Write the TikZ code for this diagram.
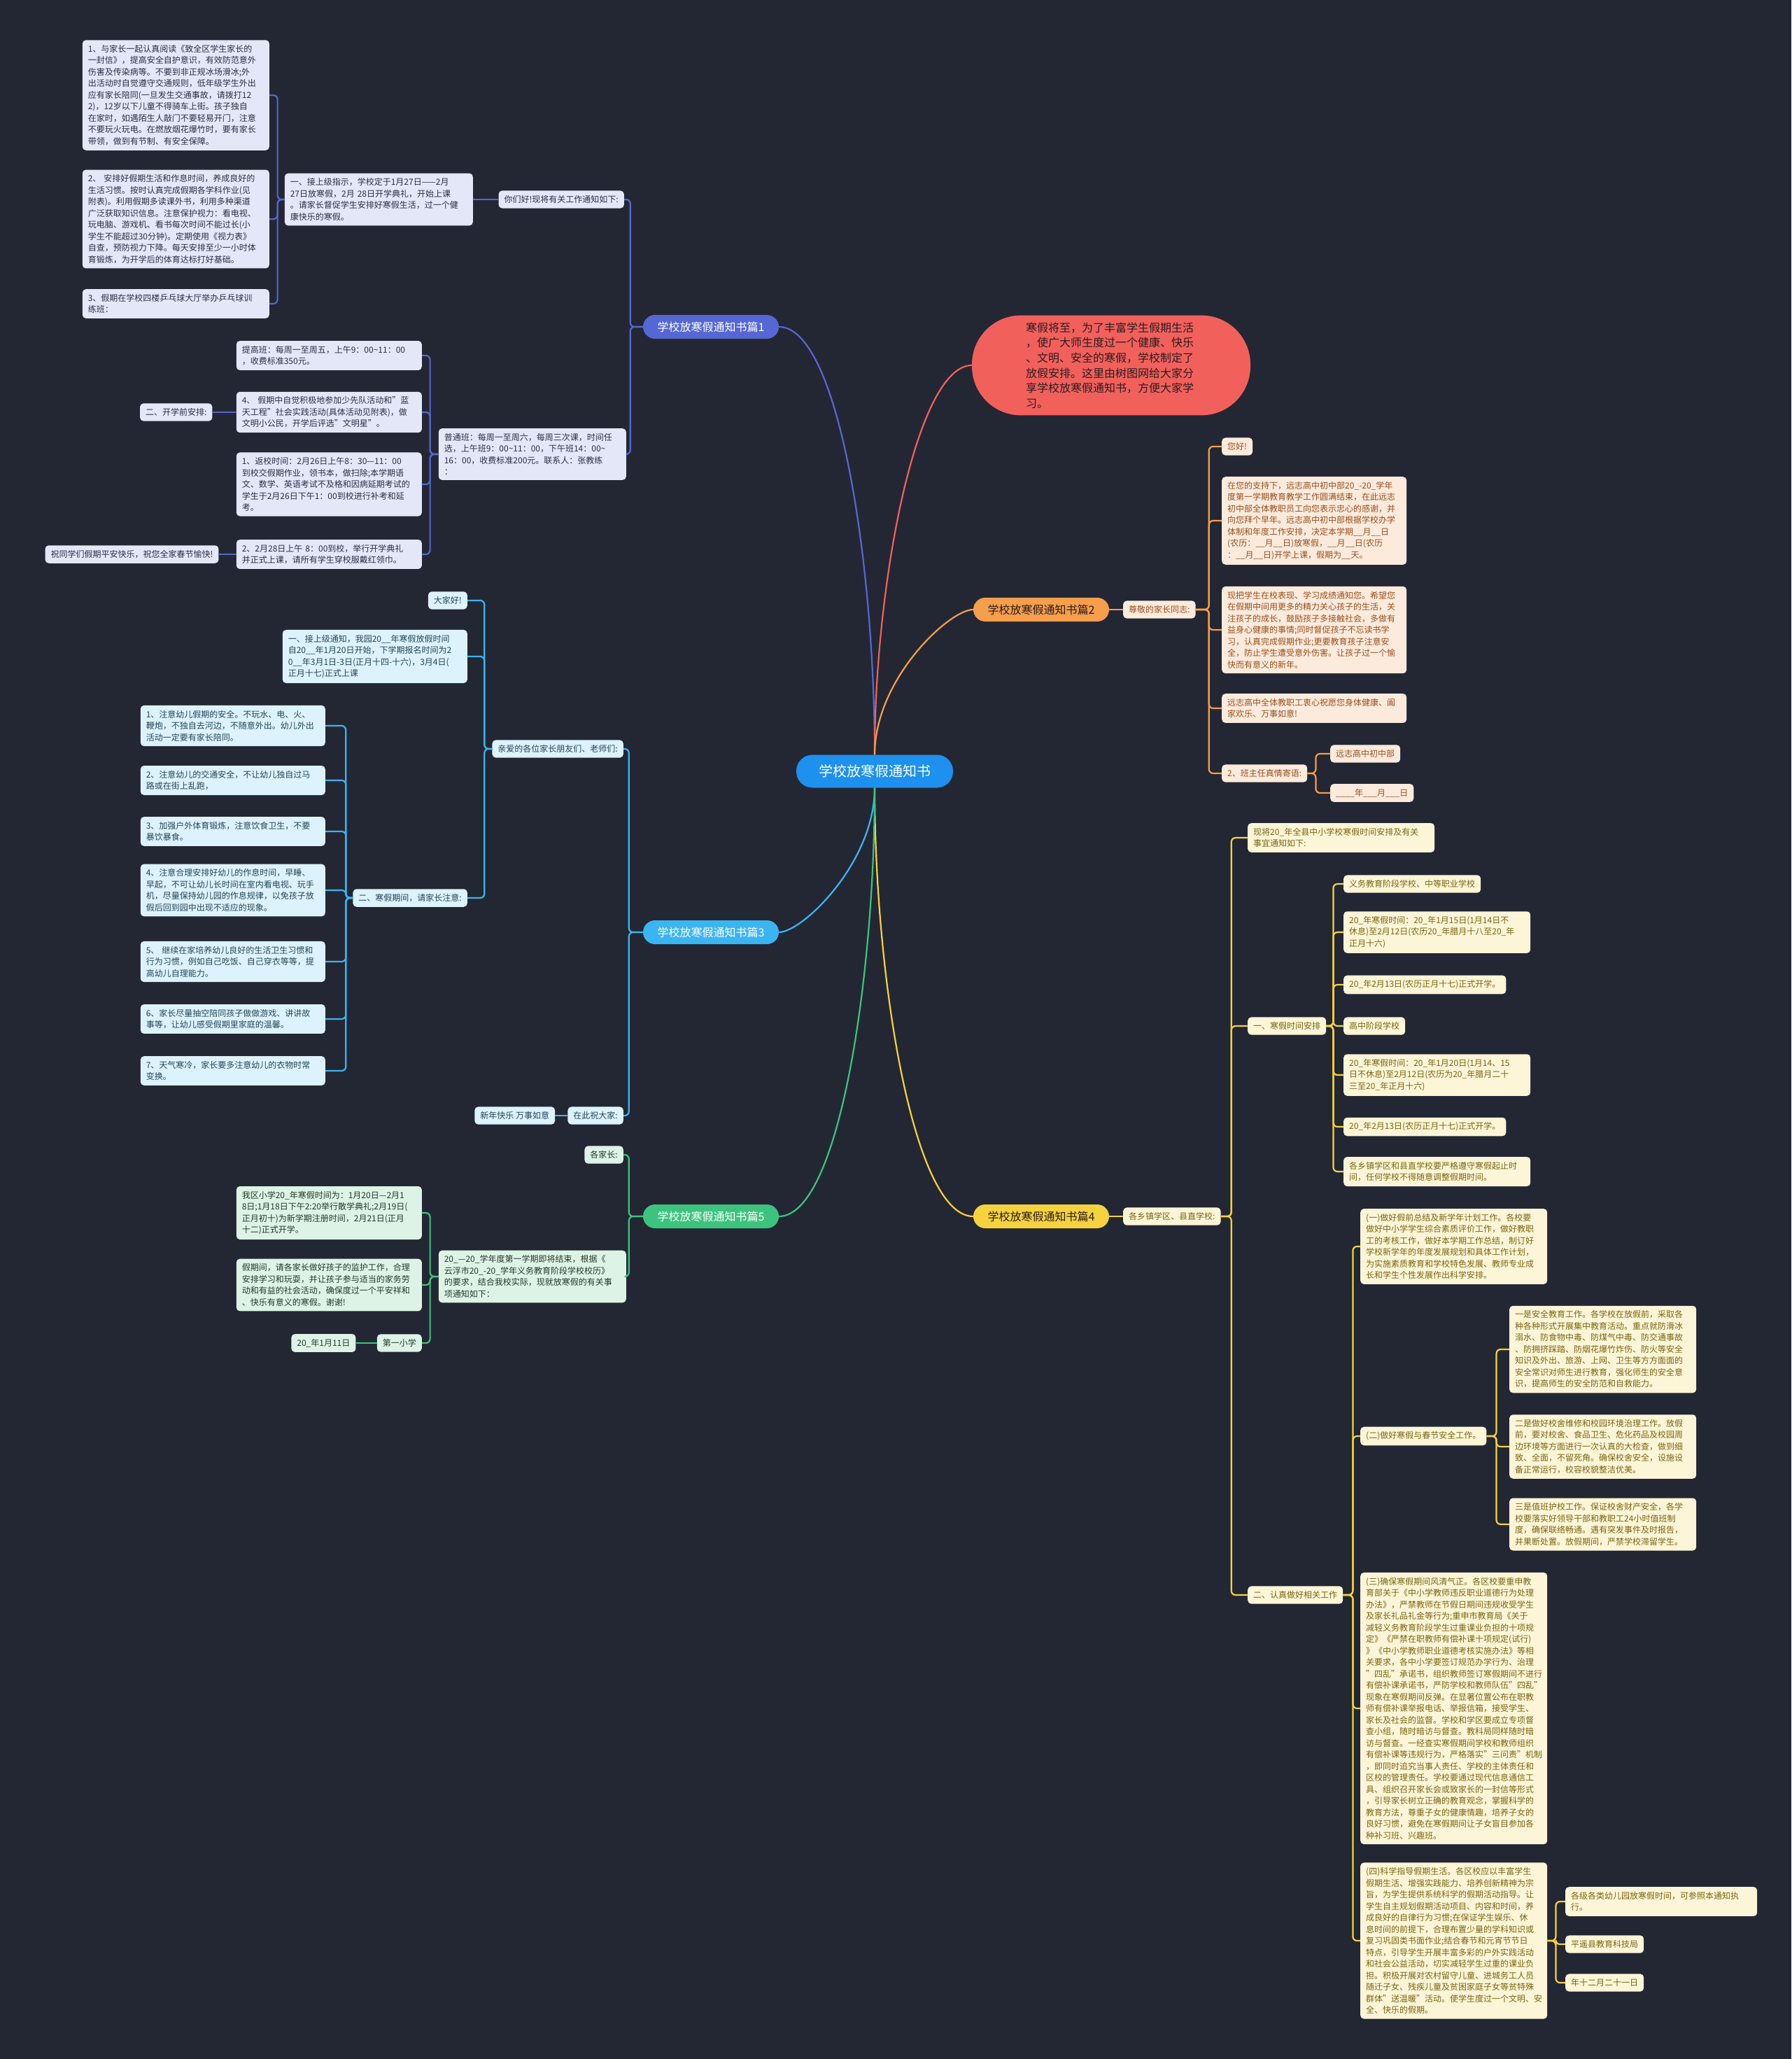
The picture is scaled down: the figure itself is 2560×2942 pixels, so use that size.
\documentclass[tikz,border=0pt]{standalone}
\usepackage{fontspec}
\setmainfont{Noto Sans CJK SC}
\usetikzlibrary{positioning}
\definecolor{bgc}{HTML}{232733}
\definecolor{rootc}{HTML}{1E90EE}
\definecolor{introc}{HTML}{F2605C}
\definecolor{introt}{HTML}{2A1C1C}
\definecolor{colA}{HTML}{5567D2}
\definecolor{fillA}{HTML}{E4E7F8}
\definecolor{txtA}{HTML}{2B2F45}
\definecolor{colB}{HTML}{F59E4C}
\definecolor{fillB}{HTML}{FCEBDD}
\definecolor{txtB}{HTML}{9A4E1C}
\definecolor{colC}{HTML}{3BB5F2}
\definecolor{fillC}{HTML}{DCF2FC}
\definecolor{txtC}{HTML}{23475A}
\definecolor{colD}{HTML}{F5D23E}
\definecolor{fillD}{HTML}{FDF5D7}
\definecolor{txtD}{HTML}{7A6512}
\definecolor{colE}{HTML}{3CC47E}
\definecolor{fillE}{HTML}{DDF3E6}
\definecolor{txtE}{HTML}{24392C}
\newcommand\tld{\textasciitilde}
\tikzset{
  leaf/.style={rounded corners=5pt, inner xsep=8pt, inner ysep=7pt, align=left,
    font=\fontsize{12}{16.5}\selectfont},
  leafA/.style={leaf, fill=fillA, text=txtA},
  leafB/.style={leaf, fill=fillB, text=txtB},
  leafC/.style={leaf, fill=fillC, text=txtC},
  leafD/.style={leaf, fill=fillD, text=txtD},
  leafE/.style={leaf, fill=fillE, text=txtE},
  branch/.style={rounded corners=17pt, minimum width=194pt, minimum height=34pt,
    inner sep=0pt, font=\fontsize{16}{20}\selectfont},
  link/.style={line width=2.2pt, rounded corners=6pt},
  trunk/.style={line width=2.2pt, out looseness=1.1, in looseness=0.35},
}

\begin{document}
\begin{tikzpicture}[x=1pt,y=1pt]
\fill[bgc] (0,0) rectangle (2560,-2942);
\useasboundingbox (0,0) rectangle (2560,-2942);

\node[fill=rootc, text=white, rounded corners=23pt, minimum width=224pt, minimum height=47pt,
  font=\fontsize{20}{24}\selectfont] (r) at (1250,-1102) {学校放寒假通知书};
\node[fill=introc, text=introt, rounded corners=70pt, text width=244pt, align=left,
  inner xsep=77pt, inner ysep=10pt, font=\fontsize{16}{21.6}\selectfont] (intro) at (1588,-522)
  {寒假将至，为了丰富学生假期生活\\，使广大师生度过一个健康、快乐\\、文明、安全的寒假，学校制定了\\放假安排。这里由树图网给大家分\\享学校放寒假通知书，方便大家学\\习。};

\node[branch, fill=colA, text=white] (b_1) at (1016,-467) {学校放寒假通知书篇1};
\node[branch, fill=colB, text=introt] (b_2) at (1488,-871) {学校放寒假通知书篇2};
\node[branch, fill=colC, text=white] (b_3) at (1016,-1332) {学校放寒假通知书篇3};
\node[branch, fill=colD, text=introt] (b_4) at (1488,-1738) {学校放寒假通知书篇4};
\node[branch, fill=colE, text=white] (b_5) at (1016,-1738) {学校放寒假通知书篇5};

\draw[trunk, colA] (r.north) to[out=90,in=0] (b_1.east);
\draw[trunk, introc] (r.north) to[out=90,in=180] (intro.west);
\draw[trunk, colB] (r.north) to[out=90,in=180] (b_2.west);
\draw[trunk, colC] (r.south) to[out=-90,in=0] (b_3.east);
\draw[trunk, colD] (r.south) to[out=-90,in=180] (b_4.west);
\draw[trunk, colE] (r.south) to[out=-90,in=0] (b_5.east);

\node[leafA, anchor=east] (b_1a) at (892,-285) {你们好!现将有关工作通知如下:};
\node[leafA, anchor=east, text width=253pt] (b_1a1) at (676,-285)
  {一、接上级指示，学校定于1月27日——2月\\27日放寒假，2月 28日开学典礼，开始上课\\。请家长督促学生安排好寒假生活，过一个健\\康快乐的寒假。};
\node[leafA, anchor=east, text width=251pt] (n_11) at (385,-136)
  {1、与家长一起认真阅读《致全区学生家长的\\一封信》，提高安全自护意识，有效防范意外\\伤害及传染病等。不要到非正规冰场滑冰;外\\出活动时自觉遵守交通规则，低年级学生外出\\应有家长陪同(一旦发生交通事故，请拨打12\\2)，12岁以下儿童不得骑车上街。孩子独自\\在家时，如遇陌生人敲门不要轻易开门，注意\\不要玩火玩电。在燃放烟花爆竹时，要有家长\\带领，做到有节制、有安全保障。};
\node[leafA, anchor=east, text width=251pt] (n_12) at (385,-313)
  {2、 安排好假期生活和作息时间，养成良好的\\生活习惯。按时认真完成假期各学科作业(见\\附表)。利用假期多读课外书，利用多种渠道\\广泛获取知识信息。注意保护视力：看电视、\\玩电脑、游戏机、看书每次时间不能过长(小\\学生不能超过30分钟)。定期使用《视力表》\\自查，预防视力下降。每天安排至少一小时体\\育锻炼，为开学后的体育达标打好基础。};
\node[leafA, anchor=east, text width=251pt] (n_13) at (385,-434)
  {3、假期在学校四楼乒乓球大厅举办乒乓球训\\练班：};
\node[leafA, anchor=east, text width=252pt] (b_1b) at (895,-649)
  {普通班：每周一至周六，每周三次课，时间任\\选，上午班9：00\tld11：00，下午班14：00\tld\\16：00，收费标准200元。联系人：张教练\\：};
\node[leafA, anchor=east, text width=249pt] (n_14) at (603,-508)
  {提高班：每周一至周五，上午9：00\tld11：00\\，收费标准350元。};
\node[leafA, anchor=east, text width=249pt] (n_15) at (603,-589)
  {4、 假期中自觉积极地参加少先队活动和"蓝\\天工程"社会实践活动(具体活动见附表)，做\\文明小公民，开学后评选"文明星"。};
\node[leafA, anchor=east, text width=249pt] (n_16) at (603,-692)
  {1、返校时间：2月26日上午8：30—11：00\\到校交假期作业，领书本，做扫除;本学期语\\文、数学、英语考试不及格和因病延期考试的\\学生于2月26日下午1：00到校进行补考和延\\考。};
\node[leafA, anchor=east, text width=249pt] (n_17) at (603,-792)
  {2、2月28日上午 8：00到校，举行开学典礼\\并正式上课，请所有学生穿校服戴红领巾。};
\node[leafA, left=34pt of n_15] (n_18) {二、开学前安排:};
\node[leafA, left=25pt of n_17] (n_19) {祝同学们假期平安快乐，祝您全家春节愉快!};

\foreach \c in {b_1a,b_1b} \draw[link, colA] (b_1.west) -- ++(-18,0) |- (\c.east);
\draw[link, colA] (b_1a.west) -- (b_1a1.east);
\foreach \c in {n_11,n_12,n_13} \draw[link, colA] (b_1a1.west) -- ++(-10,0) |- (\c.east);
\foreach \c in {n_14,n_15,n_16,n_17} \draw[link, colA] (b_1b.west) -- ++(-12,0) |- (\c.east);
\draw[link, colA] (n_15.west) -- (n_18.east);
\draw[link, colA] (n_17.west) -- (n_19.east);

\node[leafB, anchor=west] (b_2a) at (1605,-871) {尊敬的家长同志:};
\node[leafB, anchor=west] (n_21) at (1746,-638) {您好!};
\node[leafB, anchor=west, text width=248pt] (n_22) at (1746,-744)
  {在您的支持下，远志高中初中部20\_-20\_学年\\度第一学期教育教学工作圆满结束，在此远志\\初中部全体教职员工向您表示忠心的感谢，并\\向您拜个早年。远志高中初中部根据学校办学\\体制和年度工作安排，决定本学期\_\_月\_\_日\\(农历：\_\_月\_\_日)放寒假，\_\_月\_\_日(农历\\：\_\_月\_\_日)开学上课，假期为\_\_天。};
\node[leafB, anchor=west, text width=248pt] (n_23) at (1746,-900)
  {现把学生在校表现、学习成绩通知您。希望您\\在假期中间用更多的精力关心孩子的生活，关\\注孩子的成长，鼓励孩子多接触社会，多做有\\益身心健康的事情;同时督促孩子不忘读书学\\习，认真完成假期作业;更要教育孩子注意安\\全，防止学生遭受意外伤害。让孩子过一个愉\\快而有意义的新年。};
\node[leafB, anchor=west, text width=248pt] (n_24) at (1746,-1012)
  {远志高中全体教职工衷心祝愿您身体健康、阖\\家欢乐、万事如意!};
\node[leafB, anchor=west] (n_25) at (1746,-1105) {2、班主任真情寄语:};
\node[leafB, anchor=west] (n_26) at (1901,-1077) {远志高中初中部};
\node[leafB, anchor=west] (n_27) at (1901,-1133) {\_\_\_\_年\_\_\_月\_\_\_日};

\draw[link, colB] (b_2.east) -- (b_2a.west);
\foreach \c in {n_21,n_22,n_23,n_24,n_25} \draw[link, colB] (b_2a.east) -- ++(19,0) |- (\c.west);
\foreach \c in {n_26,n_27} \draw[link, colB] (n_25.east) -- ++(12,0) |- (\c.west);

\node[leafC, anchor=east] (b_3a) at (891,-1070) {亲爱的各位家长朋友们、老师们:};
\node[leafC, anchor=east] (n_31) at (668,-858) {大家好!};
\node[leafC, anchor=east, text width=248pt] (n_32) at (668,-938)
  {一、接上级通知，我园20\_\_年寒假放假时间\\自20\_\_年1月20日开始，下学期报名时间为2\\0\_\_年3月1日-3日(正月十四-十六)，3月4日(\\正月十七)正式上课};
\node[leafC, anchor=east] (n_33) at (668,-1283) {二、寒假期间，请家长注意:};
\node[leafC, anchor=east, text width=248pt] (n_34) at (465,-1037)
  {1、注意幼儿假期的安全。不玩水、电、火、\\鞭炮，不独自去河边，不随意外出。幼儿外出\\活动一定要有家长陪同。};
\node[leafC, anchor=east, text width=248pt] (n_35) at (465,-1115)
  {2、注意幼儿的交通安全，不让幼儿独自过马\\路或在街上乱跑，};
\node[leafC, anchor=east, text width=248pt] (n_36) at (465,-1188)
  {3、加强户外体育锻炼，注意饮食卫生，不要\\暴饮暴食。};
\node[leafC, anchor=east, text width=248pt] (n_37) at (465,-1272)
  {4、注意合理安排好幼儿的作息时间，早睡、\\早起，不可让幼儿长时间在室内看电视、玩手\\机，尽量保持幼儿园的作息规律，以免孩子放\\假后回到园中出现不适应的现象。};
\node[leafC, anchor=east, text width=248pt] (n_38) at (465,-1374)
  {5、 继续在家培养幼儿良好的生活卫生习惯和\\行为习惯，例如自己吃饭、自己穿衣等等，提\\高幼儿自理能力。};
\node[leafC, anchor=east, text width=248pt] (n_39) at (465,-1456)
  {6、家长尽量抽空陪同孩子做做游戏、讲讲故\\事等，让幼儿感受假期里家庭的温馨。};
\node[leafC, anchor=east, text width=248pt] (n_3a) at (465,-1530)
  {7、天气寒冷，家长要多注意幼儿的衣物时常\\变换。};
\node[leafC, anchor=east] (b_3b) at (891,-1594) {在此祝大家:};
\node[leafC, left=18pt of b_3b] (n_3b) {新年快乐 万事如意};

\foreach \c in {b_3a,b_3b} \draw[link, colC] (b_3.west) -- ++(-20,0) |- (\c.east);
\foreach \c in {n_31,n_32,n_33} \draw[link, colC] (b_3a.west) -- ++(-11,0) |- (\c.east);
\foreach \c in {n_34,n_35,n_36,n_37,n_38,n_39,n_3a} \draw[link, colC] (n_33.west) -- ++(-10,0) |- (\c.east);
\draw[link, colC] (b_3b.west) -- (n_3b.east);

\node[leafE, anchor=east] (b_5a) at (891,-1650) {各家长:};
\node[leafE, anchor=east, text width=252pt] (b_5b) at (895,-1824)
  {20\_—20\_学年度第一学期即将结束，根据《\\云浮市20\_-20\_学年义务教育阶段学校校历》\\的要求，结合我校实际，现就放寒假的有关事\\项通知如下：};
\node[leafE, anchor=east, text width=249pt] (n_51) at (603,-1733)
  {我区小学20\_年寒假时间为：1月20日—2月1\\8日;1月18日下午2:20举行散学典礼;2月19日(\\正月初十)为新学期注册时间，2月21日(正月\\十二)正式开学。};
\node[leafE, anchor=east, text width=249pt] (n_52) at (603,-1836)
  {假期间，请各家长做好孩子的监护工作，合理\\安排学习和玩耍，并让孩子参与适当的家务劳\\动和有益的社会活动，确保度过一个平安祥和\\、快乐有意义的寒假。谢谢!};
\node[leafE, anchor=east] (n_53) at (603,-1919) {第一小学};
\node[leafE, left=30pt of n_53] (n_54) {20\_年1月11日};

\foreach \c in {b_5a,b_5b} \draw[link, colE] (b_5.west) -- ++(-20,0) |- (\c.east);
\foreach \c in {n_51,n_52,n_53} \draw[link, colE] (b_5b.west) -- ++(-12,0) |- (\c.east);
\draw[link, colE] (n_53.west) -- (n_54.east);

\node[leafD, anchor=west] (b_4a) at (1605,-1738) {各乡镇学区、县直学校:};
\node[leafD, anchor=west, text width=251pt] (n_41) at (1783,-1197)
  {现将20\_年全县中小学校寒假时间安排及有关\\事宜通知如下:};
\node[leafD, anchor=west] (n_42) at (1783,-1466) {一、寒假时间安排};
\node[leafD, anchor=west] (n_43) at (1920,-1263) {义务教育阶段学校、中等职业学校};
\node[leafD, anchor=west, text width=251pt] (n_44) at (1920,-1332)
  {20\_年寒假时间：20\_年1月15日(1月14日不\\休息)至2月12日(农历20\_年腊月十八至20\_年\\正月十六)};
\node[leafD, anchor=west] (n_45) at (1920,-1407) {20\_年2月13日(农历正月十七)正式开学。};
\node[leafD, anchor=west] (n_46) at (1920,-1466) {高中阶段学校};
\node[leafD, anchor=west, text width=251pt] (n_47) at (1920,-1536)
  {20\_年寒假时间：20\_年1月20日(1月14、15\\日不休息)至2月12日(农历为20\_年腊月二十\\三至20\_年正月十六)};
\node[leafD, anchor=west] (n_48) at (1920,-1610) {20\_年2月13日(农历正月十七)正式开学。};
\node[leafD, anchor=west, text width=251pt] (n_49) at (1920,-1674)
  {各乡镇学区和县直学校要严格遵守寒假起止时\\间，任何学校不得随意调整假期时间。};
\node[leafD, anchor=west] (n_4a) at (1783,-2279) {二、认真做好相关工作};
\node[leafD, anchor=west, text width=251pt] (n_4b) at (1944,-1781)
  {(一)做好假前总结及新学年计划工作。各校要\\做好中小学学生综合素质评价工作，做好教职\\工的考核工作，做好本学期工作总结，制订好\\学校新学年的年度发展规划和具体工作计划，\\为实施素质教育和学校特色发展、教师专业成\\长和学生个性发展作出科学安排。};
\node[leafD, anchor=west] (n_4c) at (1944,-2052) {(二)做好寒假与春节安全工作。};
\node[leafD, anchor=west, text width=251pt] (n_4d) at (2157,-1928)
  {一是安全教育工作。各学校在放假前，采取各\\种各种形式开展集中教育活动。重点就防滑冰\\溺水、防食物中毒、防煤气中毒、防交通事故\\、防拥挤踩踏、防烟花爆竹炸伤、防火等安全\\知识及外出、旅游、上网、卫生等方方面面的\\安全常识对师生进行教育，强化师生的安全意\\识，提高师生的安全防范和自救能力。};
\node[leafD, anchor=west, text width=251pt] (n_4e) at (2157,-2067)
  {二是做好校舍维修和校园环境治理工作。放假\\前，要对校舍、食品卫生、危化药品及校园周\\边环境等方面进行一次认真的大检查，做到细\\致、全面，不留死角。确保校舍安全，设施设\\备正常运行，校容校貌整洁优美。};
\node[leafD, anchor=west, text width=251pt] (n_4f) at (2157,-2178)
  {三是值班护校工作。保证校舍财产安全，各学\\校要落实好领导干部和教职工24小时值班制\\度，确保联络畅通。遇有突发事件及时报告，\\并果断处置。放假期间，严禁学校滞留学生。};
\node[leafD, anchor=west, text width=251pt] (n_4g) at (1944,-2441)
  {(三)确保寒假期间风清气正。各区校要重申教\\育部关于《中小学教师违反职业道德行为处理\\办法》，严禁教师在节假日期间违规收受学生\\及家长礼品礼金等行为;重申市教育局《关于\\减轻义务教育阶段学生过重课业负担的十项规\\定》《严禁在职教师有偿补课十项规定(试行)\\》《中小学教师职业道德考核实施办法》等相\\关要求，各中小学要签订规范办学行为、治理\\"四乱"承诺书，组织教师签订寒假期间不进行\\有偿补课承诺书，严防学校和教师队伍"四乱"\\现象在寒假期间反弹。在显著位置公布在职教\\师有偿补课举报电话、举报信箱，接受学生、\\家长及社会的监督。学校和学区要成立专项督\\查小组，随时暗访与督查。教科局同样随时暗\\访与督查。一经查实寒假期间学校和教师组织\\有偿补课等违规行为，严格落实"三问责"机制\\，即同时追究当事人责任、学校的主体责任和\\区校的管理责任。学校要通过现代信息通信工\\具、组织召开家长会或致家长的一封信等形式\\，引导家长树立正确的教育观念，掌握科学的\\教育方法，尊重子女的健康情趣，培养子女的\\良好习惯，避免在寒假期间让子女盲目参加各\\种补习班、兴趣班。};
\node[leafD, anchor=west, text width=251pt] (n_4h) at (1944,-2773)
  {(四)科学指导假期生活。各区校应以丰富学生\\假期生活、增强实践能力、培养创新精神为宗\\旨，为学生提供系统科学的假期活动指导。让\\学生自主规划假期活动项目、内容和时间，养\\成良好的自律行为习惯;在保证学生娱乐、休\\息时间的前提下，合理布置少量的学科知识或\\复习巩固类书面作业;结合春节和元宵节节日\\特点，引导学生开展丰富多彩的户外实践活动\\和社会公益活动，切实减轻学生过重的课业负\\担。积极开展对农村留守儿童、进城务工人员\\随迁子女、残疾儿童及贫困家庭子女等贫特殊\\群体"送温暖"活动。使学生度过一个文明、安\\全、快乐的假期。};
\node[leafD, anchor=west, text width=258pt] (n_4i) at (2237,-2717)
  {各级各类幼儿园放寒假时间，可参照本通知执\\行。};
\node[leafD, anchor=west] (n_4j) at (2237,-2778) {平遥县教育科技局};
\node[leafD, anchor=west] (n_4k) at (2237,-2833) {年十二月二十一日};

\draw[link, colD] (b_4.east) -- (b_4a.west);
\foreach \c in {n_41,n_42,n_4a} \draw[link, colD] (b_4a.east) -- ++(15,0) |- (\c.west);
\foreach \c in {n_43,n_44,n_45,n_46,n_47,n_48,n_49} \draw[link, colD] (n_42.east) -- ++(10,0) |- (\c.west);
\foreach \c in {n_4b,n_4c,n_4g,n_4h} \draw[link, colD] (n_4a.east) -- ++(14,0) |- (\c.west);
\foreach \c in {n_4d,n_4e,n_4f} \draw[link, colD] (n_4c.east) -- ++(14,0) |- (\c.west);
\foreach \c in {n_4i,n_4j,n_4k} \draw[link, colD] (n_4h.east) -- ++(12,0) |- (\c.west);
\end{tikzpicture}
\end{document}
